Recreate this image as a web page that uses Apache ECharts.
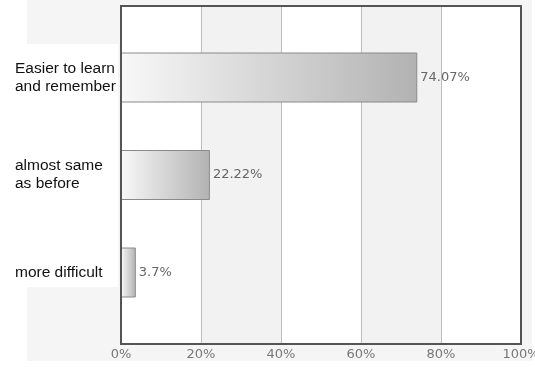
<!DOCTYPE html>
<html>
<head>
<meta charset="utf-8">
<script src="https://cdn.jsdelivr.net/npm/echarts@6/dist/echarts.min.js"></script>
<style>
  html, body { margin: 0; padding: 0; background: #fff; }
  #chart { width: 535px; height: 367px; }
</style>
</head>
<body>
<div id="chart"></div>
<script>
// Survey answers and their shares (percent)
const categories = ['Easier to learn\nand remember', 'almost same\nas before', 'more difficult'];
const shares = [74.07, 22.22, 3.7];
const tickValues = [0, 20, 40, 60, 80, 100];

const chart = echarts.init(document.getElementById('chart'), null, { renderer: 'canvas' });

const plotLeft = 121, plotTop = 6, plotWidth = 400, plotHeight = 338;
const bandHeight = 97.5;
const barsHeight = bandHeight * categories.length;
const barsTop = plotTop + (plotHeight - barsHeight) / 2;

chart.setOption({
  animation: false,
  backgroundColor: '#fff',
  graphic: [
    { type: 'rect', z: -10, silent: true, shape: { x: 27, y: 0, width: 505, height: 361 }, style: { fill: '#f5f5f5' } },
    { type: 'rect', z: -9, silent: true, shape: { x: 0, y: 44, width: 118, height: 243 }, style: { fill: '#fff' } },
    // plot frame
    { type: 'rect', z: 100, silent: true,
      shape: { x: plotLeft, y: plotTop, width: plotWidth, height: plotHeight },
      style: { fill: null, stroke: '#555', lineWidth: 2 } }
  ],
  grid: [
    { left: plotLeft, top: plotTop, width: plotWidth, height: plotHeight, outerBoundsMode: 'none',
      show: true, backgroundColor: '#fff', borderWidth: 0 },
    { left: plotLeft, top: barsTop, width: plotWidth, height: barsHeight, outerBoundsMode: 'none' }
  ],
  xAxis: [
    {
      gridIndex: 0, type: 'value', min: tickValues[0], max: tickValues[tickValues.length - 1], interval: 20,
      axisLine: { show: false }, axisTick: { show: false },
      splitLine: { show: true, lineStyle: { color: '#bdbdbd', width: 1 } },
      splitArea: { show: true, areaStyle: { color: ['#ffffff', '#f2f2f2'] } },
      axisLabel: { formatter: '{value}%', color: '#777', fontFamily: 'DejaVu Sans', fontSize: 13, margin: 4 }
    },
    {
      gridIndex: 1, type: 'value', min: tickValues[0], max: tickValues[tickValues.length - 1], show: false
    }
  ],
  yAxis: [
    { gridIndex: 0, type: 'value', show: false },
    {
      gridIndex: 1, type: 'category', data: categories, inverse: true,
      axisLine: { show: false }, axisTick: { show: false }, splitLine: { show: false },
      axisLabel: {
        align: 'left', margin: 106, color: '#111',
        fontFamily: 'Liberation Sans', fontSize: 15.5, lineHeight: 18
      }
    }
  ],
  series: [{
    type: 'bar', xAxisIndex: 1, yAxisIndex: 1, data: shares, barWidth: 50, z: 5,
    itemStyle: {
      borderColor: '#8a8a8a', borderWidth: 1,
      color: new echarts.graphic.LinearGradient(0, 0, 1, 0, [
        { offset: 0, color: '#f8f8f8' },
        { offset: 1, color: '#b2b2b2' }
      ])
    },
    label: {
      show: true, position: 'right', distance: 3,
      formatter: p => p.value + '%',
      color: '#666', fontFamily: 'DejaVu Sans', fontSize: 13
    }
  }]
});
</script>
</body>
</html>
